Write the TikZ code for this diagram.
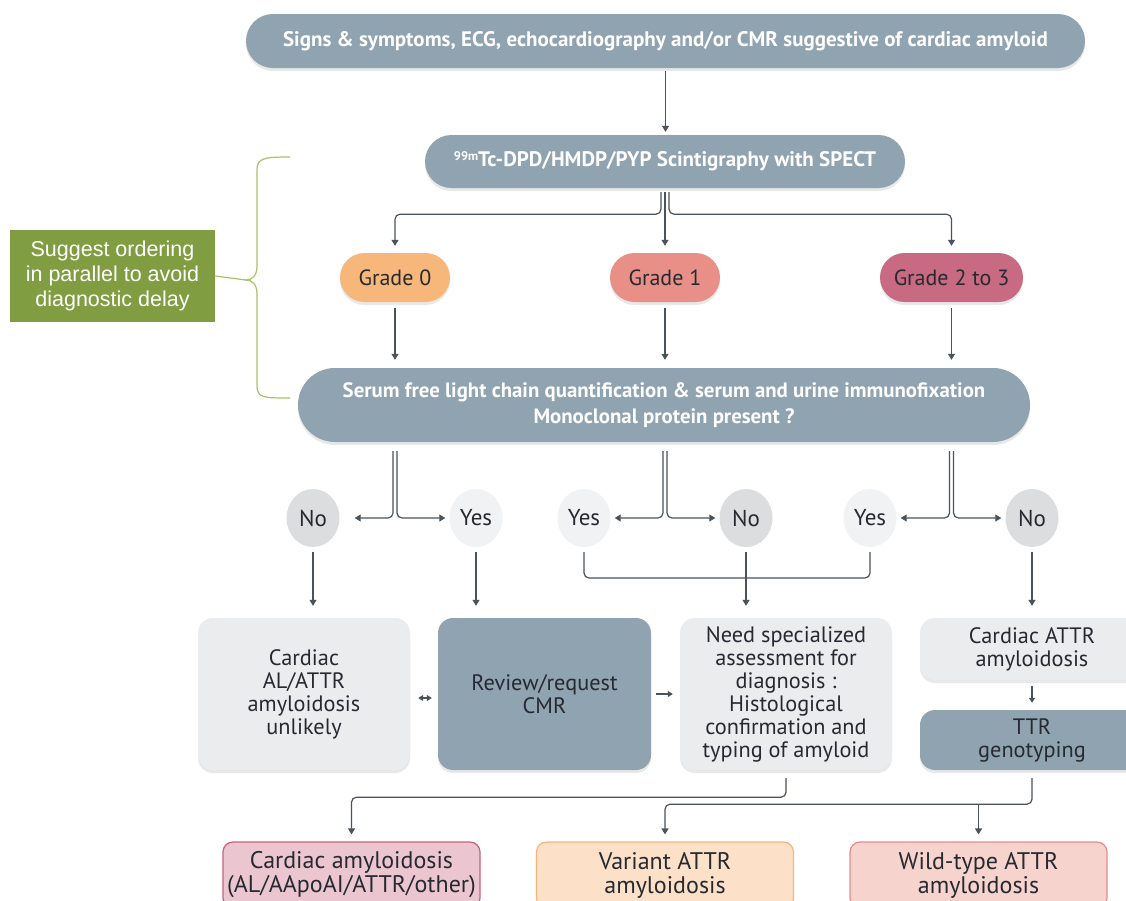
\documentclass[tikz,border=0pt]{standalone}
\usepackage{fontspec}
\setmainfont{PT Sans}
\newfontfamily\arialfont{Liberation Sans}
\usetikzlibrary{arrows.meta,shapes.geometric,shapes.misc,shadows,calc}
\definecolor{slate}{RGB}{144,163,176}
\definecolor{darktxt}{RGB}{38,42,48}
\definecolor{arrowc}{RGB}{74,82,90}
\definecolor{lightbox}{RGB}{234,236,238}
\definecolor{nocirc}{RGB}{220,221,223}
\definecolor{yescirc}{RGB}{241,242,244}
\definecolor{gzero}{RGB}{248,183,122}
\definecolor{gone}{RGB}{232,144,135}
\definecolor{gtwo}{RGB}{199,106,130}
\definecolor{greenbox}{RGB}{129,157,66}
\definecolor{bracec}{RGB}{165,195,105}
\definecolor{cafill}{RGB}{235,198,208}
\definecolor{cadraw}{RGB}{201,96,122}
\definecolor{vafill}{RGB}{252,224,200}
\definecolor{vadraw}{RGB}{246,180,122}
\definecolor{wtfill}{RGB}{247,211,206}
\definecolor{wtdraw}{RGB}{228,141,136}
\tikzset{
  shad/.style={drop shadow={opacity=0.18,shadow xshift=0pt,shadow yshift=-3pt}},
  pill/.style={rounded rectangle, fill=slate, text=white, inner sep=0pt, shad, font=\fontsize{21}{25}\selectfont\bfseries, align=center},
  grade/.style={rounded rectangle, inner sep=0pt, text=darktxt, shad, font=\fontsize{22}{26}\selectfont, minimum height=49pt},
  circ/.style={ellipse, inner sep=0pt, minimum width=53pt, minimum height=58pt, text=darktxt, font=\fontsize{23}{26}\selectfont},
  bigbox/.style={rounded corners=15pt, inner sep=0pt, text=darktxt, shad, align=center, font=\fontsize{22.3}{23}\selectfont},
  endbox/.style={rounded corners=10pt, line width=1.2pt, inner sep=0pt, text=darktxt, align=center, font=\fontsize{24}{24}\selectfont, minimum width=257pt, minimum height=66pt},
  conn/.style={draw=arrowc, line width=1.2pt, rounded corners=5pt},
  arr/.style={conn, -{Triangle[width=7pt,length=6pt]}},
  smallarr/.style={draw=arrowc, line width=1.1pt, -{Triangle[width=6pt,length=5pt]}},
  smallarrs/.style={draw=arrowc, line width=1.1pt, {Triangle[width=6pt,length=5pt]}-{Triangle[width=6pt,length=5pt]}}
}
\begin{document}
\begin{tikzpicture}[x=1pt,y=-1pt]
\useasboundingbox (0,0) rectangle (1126,900);
\clip (0,0) rectangle (1126,900);
\fill[white] (0,0) rectangle (1126,900);

% main nodes
\node[pill, minimum width=839pt, minimum height=54pt] (top) at (665.5,41) {Signs \& symptoms, ECG, echocardiography and/or CMR suggestive of cardiac amyloid};
\node[pill, minimum width=480pt, minimum height=53pt, font=\fontsize{21}{25}\selectfont\bfseries] (scint) at (665,161.5) {{\fontsize{12.5}{14}\selectfont\raisebox{6.5pt}{99m}}Tc-DPD/HMDP/PYP Scintigraphy with SPECT};

\node[grade, fill=gzero, minimum width=110pt] (g0) at (395,277.5) {Grade 0};
\node[grade, fill=gone, minimum width=110pt] (g1) at (665,277.5) {Grade 1};
\node[grade, fill=gtwo, minimum width=143pt] (g23) at (951.5,277.5) {Grade 2 to 3};

\node[pill, minimum width=732pt, minimum height=74pt, font=\fontsize{20.8}{26}\selectfont\bfseries] (serum) at (664,405) {Serum free light chain quantification \& serum and urine immunofixation\\Monoclonal protein present ?};

% green note and brace
\node[fill=greenbox, text=white, minimum width=205pt, minimum height=92pt, inner sep=0pt, align=center, font=\arialfont\fontsize{21.5}{25}\selectfont] (note) at (112.5,276) {Suggest ordering\\in parallel to avoid\\diagnostic delay};
\coordinate (bt) at (246,280);
\draw[bracec, line width=1.2pt] (290,157) .. controls (264,157) and (257,158) .. (257,170) -- (257,266) .. controls (257,276) and (252,280) .. (bt) .. controls (252,280) and (257,284) .. (257,294) -- (257,386) .. controls (257,398) and (264,398) .. (290,398);
\draw[bracec, line width=1.2pt] (note.east) -- (bt);

% yes / no circles
\node[circ, fill=nocirc] (no1) at (313,518) {No};
\node[circ, fill=yescirc] (yes1) at (476,518) {Yes};
\node[circ, fill=yescirc] (yes2) at (584,518) {Yes};
\node[circ, fill=nocirc] (no2) at (746,518) {No};
\node[circ, fill=yescirc] (yes3) at (870,518) {Yes};
\node[circ, fill=nocirc] (no3) at (1032,518) {No};

% result boxes
\node[bigbox, fill=lightbox, minimum width=212pt, minimum height=152pt] (unl) at (304,694) {Cardiac\\AL/ATTR\\amyloidosis\\unlikely};
\node[bigbox, fill=slate, minimum width=213pt, minimum height=152pt] (rev) at (544.5,694) {Review/request\\CMR};
\node[bigbox, fill=lightbox, minimum width=212pt, minimum height=152pt] (need) at (786,694) {Need specialized\\assessment for\\diagnosis :\\Histological\\confirmation and\\typing of amyloid};
\node[bigbox, fill=lightbox, minimum width=224pt, minimum height=62pt] (cattr) at (1032,649) {Cardiac ATTR\\amyloidosis};
\node[bigbox, fill=slate, minimum width=224pt, minimum height=60pt] (ttr) at (1032,740) {TTR\\genotyping};

% final boxes
\node[endbox, fill=cafill, draw=cadraw] (ca) at (351.5,875) {Cardiac amyloidosis\\(AL/AApoAI/ATTR/other)};
\node[endbox, fill=vafill, draw=vadraw] (va) at (665,875) {Variant ATTR\\amyloidosis};
\node[endbox, fill=wtfill, draw=wtdraw] (wt) at (978.5,875) {Wild-type ATTR\\amyloidosis};

% connectors top
\draw[arr, shorten <=3pt, shorten >=3pt] (top.south) -- (top.south |- scint.north);
\coordinate (sL) at ($(scint.south)+(-4,0)$);
\coordinate (sR) at ($(scint.south)+(4,0)$);
\draw[arr, shorten <=4pt, shorten >=7pt] (sL) -- ++(0,26) -| (g0.north);
\draw[arr, shorten <=4pt, shorten >=7pt] (scint.south) -- (g1.north);
\draw[arr, shorten <=4pt, shorten >=7pt] (sR) -- ++(0,26) -| (g23.north);

\draw[arr, shorten <=6pt, shorten >=8pt] (g0.south) -- (g0.south |- serum.north);
\draw[arr, shorten <=6pt, shorten >=8pt] (g1.south) -- (g1.south |- serum.north);
\draw[arr, shorten <=6pt, shorten >=8pt] (g23.south) -- (g23.south |- serum.north);

% serum branches
\coordinate (a1) at ($(g0.south |- serum.south)+(-2,0)$);
\coordinate (a2) at ($(g0.south |- serum.south)+(2,0)$);
\coordinate (b1) at ($(g1.south |- serum.south)+(-2,0)$);
\coordinate (b2) at ($(g1.south |- serum.south)+(2,0)$);
\coordinate (c1) at ($(g23.south |- serum.south)+(-2,0)$);
\coordinate (c2) at ($(g23.south |- serum.south)+(2,0)$);
\draw[arr, shorten <=9pt, shorten >=15pt] (a1) |- (no1.east);
\draw[arr, shorten <=9pt, shorten >=4pt] (a2) |- (yes1.west);
\draw[arr, shorten <=9pt, shorten >=4pt] (b1) |- (yes2.east);
\draw[arr, shorten <=9pt, shorten >=4pt] (b2) |- (no2.west);
\draw[arr, shorten <=9pt, shorten >=4pt] (c1) |- (yes3.east);
\draw[arr, shorten <=9pt, shorten >=4pt] (c2) |- (no3.west);

% circles down
\draw[arr, shorten <=5pt, shorten >=12pt] (no1.south) -- (no1.south |- unl.north);
\draw[arr, shorten <=5pt, shorten >=12pt] (yes1.south) -- (yes1.south |- rev.north);
\draw[arr, shorten <=5pt, shorten >=12pt] (no2.south) -- (no2.south |- need.north);
\coordinate (m) at (746,578);
\draw[conn, shorten <=5pt, shorten >=5pt] (yes2.south) |- (m) -| (yes3.south);
\draw[arr, shorten <=5pt, shorten >=12pt] (no3.south) -- (no3.south |- cattr.north);

% small arrows between boxes
\draw[smallarrs, shorten <=8pt, shorten >=6pt] ([yshift=-4pt]unl.east) -- ([yshift=-4pt]rev.west);
\draw[smallarr, shorten <=5pt, shorten >=7pt] (rev.east) -- (need.west);
\draw[smallarr, shorten <=6pt, shorten >=7pt] (cattr.south) -- (ttr.north);

% bottom connectors
\draw[arr, shorten <=8pt, shorten >=7pt] (need.south) -- ++(0,27) -| (ca.north);
\coordinate (tt) at ($(ttr.south)+(0,34)$);
\draw[arr, shorten <=8pt, shorten >=7pt] (ttr.south) -- (tt) -| (va.north);
\draw[arr, shorten >=7pt] (tt -| wt.north) -- (wt.north);
\end{tikzpicture}
\end{document}
